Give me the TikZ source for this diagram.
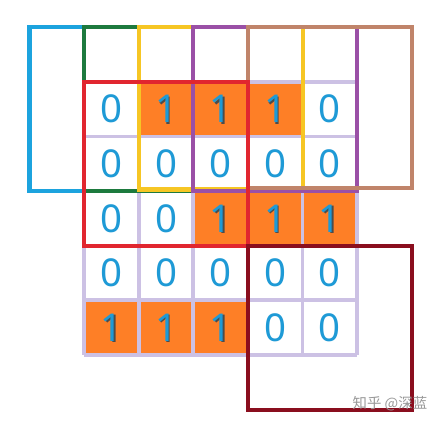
\documentclass[tikz,border=0pt]{standalone}
\usepackage{fontspec}
\setmainfont{Noto Sans}
\newfontfamily\cjk{Noto Sans CJK SC}
\definecolor{winblue}{HTML}{1CA3DE}
\definecolor{wingreen}{HTML}{1D7A3E}
\definecolor{winyellow}{HTML}{F6C624}
\definecolor{winpurple}{HTML}{9A50A6}
\definecolor{winbrown}{HTML}{C0846A}
\definecolor{winred}{HTML}{E1262F}
\definecolor{windark}{HTML}{8A0E1E}
\definecolor{onefill}{HTML}{FE7F26}
\definecolor{digitblue}{HTML}{1E9AD6}
\definecolor{gridlav}{HTML}{CCC1E4}
\tikzset{
  window/.style={line width=2.1pt, draw=#1},
  gridline/.style={line width=2pt, draw=gridlav},
  digit/.style={text=digitblue, font=\fontsize{20}{20}\selectfont, inner sep=0pt},
}
\begin{document}
\begin{tikzpicture}
	\useasboundingbox (-1.54,1.50) rectangle (6.45,-6.52);
	\fill[white] (-1.54,1.50) rectangle (6.45,-6.52);
	% cells of the input
	\foreach \v [count=\i from 0] in {0,1,1,1,0, 0,0,0,0,0, 0,0,1,1,1, 0,0,0,0,0, 1,1,1,0,0} {
		\pgfmathtruncatemacro\cc{mod(\i,5)}
		\pgfmathtruncatemacro\rr{(\i-\cc)/5}
		\ifnum\v=1
			\fill[onefill] (\cc,-\rr) rectangle ++(1,-1);
			\node[digit, text=black!70] at (\cc+0.53,-\rr-0.52) {1};
		\fi
		\node[digit] (c\rr\cc) at (\cc+0.5,-\rr-0.5) {\v};
	}
	\draw[gridline] (0,0) grid (5,-5);
	% kernel windows along the top row
	\draw[window=winblue] (-1,1) rectangle (2,-2);
	\draw[window=wingreen] (0,1) rectangle (3,-2);
	\draw[window=winyellow] (1,1) rectangle (4,-1.97);
	\draw[window=winpurple] (2,1) rectangle (5,-2);
	\draw[window=winbrown] (3,1) rectangle (6,-1.95);
	\draw[window=winred] (0,0) rectangle (3,-3);
	\draw[window=windark] (3,-3) rectangle (6,-6);
	\node[text=black!40, font=\cjk\fontsize{7.5}{7.5}\selectfont] (mark) at (5.6,-5.9) {知乎 @深蓝};
\end{tikzpicture}
\end{document}
